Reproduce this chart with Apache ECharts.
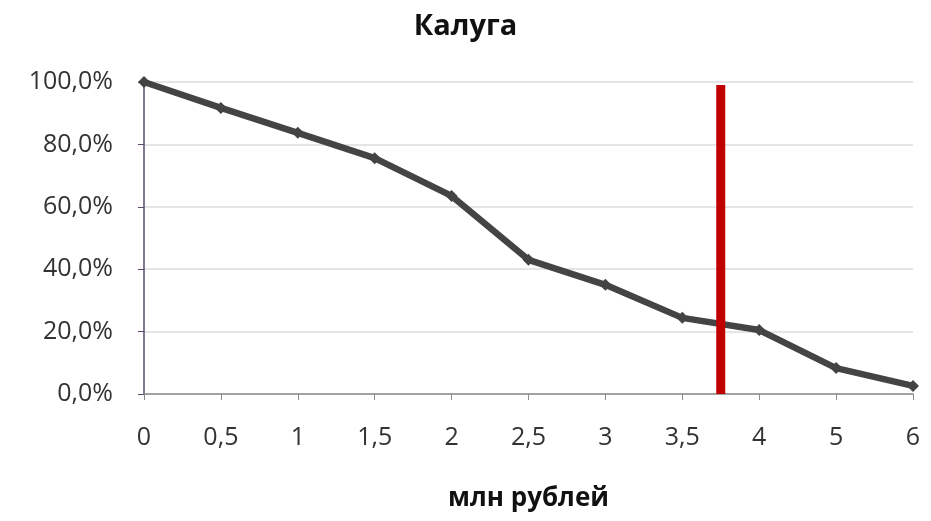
<!DOCTYPE html>
<html><head><meta charset="utf-8">
<script src="https://cdn.jsdelivr.net/npm/echarts@6/dist/echarts.min.js"></script>
<style>html,body{margin:0;padding:0;background:#fff}#c{width:931px;height:521px}</style>
</head><body><div id="c"></div>
<script>
var categories = ['0','0,5','1','1,5','2','2,5','3','3,5','4','5','6'];
var shares = [100, 91.7, 83.7, 75.6, 63.5, 43.0, 35.0, 24.4, 20.5, 8.3, 2.6];
var yTicks = [0, 20, 40, 60, 80, 100];
var thresholdIndex = 7.5;   // position 3,75 between "3,5" and "4"
var thresholdTop = 99;
var font = '"Open Sans", "DejaVu Sans", sans-serif';
var chart = echarts.init(document.getElementById('c'));
chart.setOption({
  animation: false,
  title: { text: 'Калуга', left: 'center', top: 7, textStyle: { fontFamily: font, fontSize: 29, fontWeight: 'bold', color: '#111' } },
  grid: { left: 144, right: 18, top: 82, bottom: 127 },
  xAxis: [{
    type: 'category', data: categories, boundaryGap: false,
    name: 'млн рублей', nameLocation: 'middle', nameGap: 92,
    nameTextStyle: { fontFamily: font, fontSize: 26, fontWeight: 'bold', color: '#111' },
    axisLine: { lineStyle: { color: '#8a8a8a', width: 1.5 } },
    axisTick: { show: true, length: 6, lineStyle: { color: '#8a8a8a' } },
    axisLabel: { fontFamily: font, fontSize: 25, color: '#333', margin: 31 },
    splitLine: { show: false }
  }, {
    type: 'value', min: 0, max: categories.length - 1, show: false
  }],
  yAxis: {
    type: 'value', min: yTicks[0], max: yTicks[yTicks.length - 1], interval: 20,
    axisLine: { show: true, lineStyle: { color: '#5a4a6e', width: 1.5 } },
    axisTick: { show: true, length: 6, inside: false, lineStyle: { color: '#5a4a6e' } },
    axisLabel: { fontFamily: font, fontSize: 25, color: '#333', margin: 31,
      formatter: function (v) { return v.toFixed(1).replace('.', ',') + '%'; } },
    splitLine: { lineStyle: { color: '#dcdcdc', width: 1.5 } }
  },
  series: [{
    type: 'line', data: shares, xAxisIndex: 0,
    lineStyle: { color: '#444', width: 6.5 },
    itemStyle: { color: '#444' },
    symbol: 'diamond', symbolSize: 12, z: 3
  }, {
    type: 'line', xAxisIndex: 1,
    data: [[thresholdIndex, 0], [thresholdIndex, thresholdTop]],
    symbol: 'none', lineStyle: { color: '#c00000', width: 9, cap: 'butt' }, z: 4
  }]
});
</script></body></html>
